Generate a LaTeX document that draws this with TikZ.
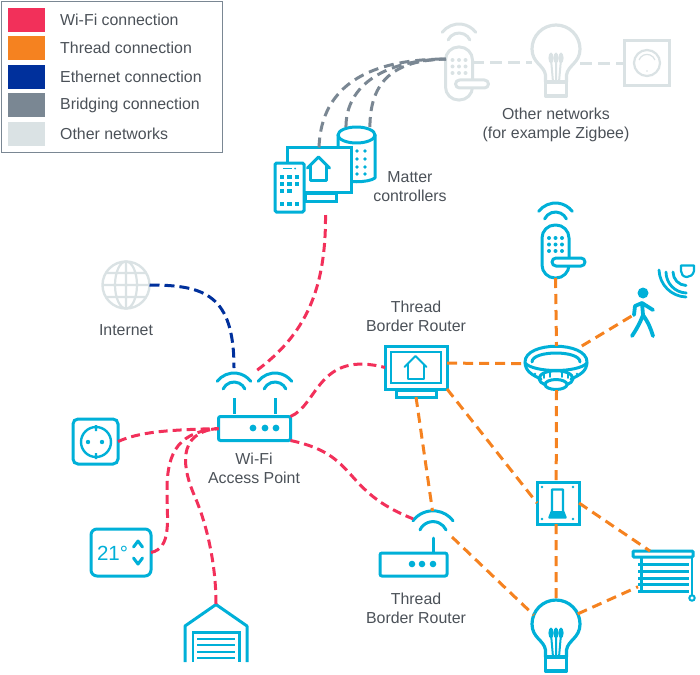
\documentclass[tikz,border=0pt]{standalone}
\usepackage{fontspec}
\setmainfont{Liberation Sans}
\usetikzlibrary{positioning}
\definecolor{cWifi}{HTML}{F2305A}
\definecolor{cThread}{HTML}{F58220}
\definecolor{cEth}{HTML}{00309C}
\definecolor{cBridge}{HTML}{7A8793}
\definecolor{cOther}{HTML}{DAE2E4}
\definecolor{cIcon}{HTML}{00B0D8}
\definecolor{cText}{HTML}{4B5158}

\begin{document}
\begin{tikzpicture}[x=1pt,y=-1pt,
      sw/.style={minimum width=37pt,minimum height=24pt,inner sep=0pt,outer sep=0pt},
      lab/.style={anchor=west,inner sep=0pt,text=cText,font=\fontsize{15.9}{19}\selectfont},
      txt/.style={align=center,inner sep=0pt,text=cText,font=\fontsize{15.9}{19}\selectfont},
      box/.style={draw=cIcon,fill=white,line width=3pt,inner sep=0pt,outer sep=0pt},
      hit/.style={inner sep=0pt,outer sep=0pt},
      ico/.style={line width=3pt,line join=round,line cap=round},
      wifiline/.style={draw=cWifi,line width=3pt,dash pattern=on 9pt off 5pt},
      threadline/.style={draw=cThread,line width=3pt,dash pattern=on 10pt off 6pt},
      ethline/.style={draw=cEth,line width=3pt,dash pattern=on 10pt off 5pt},
      bridgeline/.style={draw=cBridge,line width=3pt,dash pattern=on 10pt off 6pt},
      otherline/.style={draw=cOther,line width=3pt,dash pattern=on 12pt off 6pt},
      wifiarcs/.pic={
        \draw[ico] (217:21) arc (217:323:21);
        \draw[ico] (205:12) arc (205:335:12);
      },
      housepic/.pic={
        \draw[line join=round,line cap=round] (-11,11) -- (0,0) -- (11,11);
        \draw[line join=round] (-8,8) -- (-8,23) -- (8,23) -- (8,8);
      },
      lockpic/.pic={
        \draw[ico,rounded corners=13pt] (-13.5,0) rectangle (13.5,53);
        \foreach \x in {-6.5,0,6.5}
          \foreach \y in {13,19.5,26}
            \fill (\x,\y) circle (2);
        \draw[ico,fill=white,rounded corners=4pt] (-3.5,33) rectangle (29.5,41);
      },
      bulbpic/.pic={
        \draw[ico,line width=3.2pt] (-10.5,33) -- (-10.5,26) .. controls (-12,16) and (-24,14) .. (-24,0)
          arc (180:360:24) .. controls (24,14) and (12,16) .. (10.5,26) -- (10.5,33);
        \draw[ico,line width=3.2pt] (-10.5,33) rectangle (10.5,47);
        \draw[line width=2pt] (-5,10) -- (-3,33) (0,10) -- (0,33) (5,10) -- (3,33);
        \foreach \x in {-5,0,5}
          \fill (\x,9) ellipse (2.6 and 5.5);
      }]
    \useasboundingbox (0,0) rectangle (700,674);
    % legend
    \node[draw=cBridge,line width=1.5pt,minimum width=221pt,minimum height=151pt,inner sep=0pt]
      (legend) at (112,77) {};
    \node[sw,fill=cWifi]   (sw1) at (26.5,20)  {};
    \node[lab,right=15pt of sw1] (t1) {Wi-Fi connection};
    \node[sw,fill=cThread] (sw2) at (26.5,48)  {};
    \node[lab,right=15pt of sw2] (t2) {Thread connection};
    \node[sw,fill=cEth]    (sw3) at (26.5,77)  {};
    \node[lab,right=15pt of sw3] (t3) {Ethernet connection};
    \node[sw,fill=cBridge] (sw4) at (26.5,105) {};
    \node[lab,right=15pt of sw4] (t4) {Bridging connection};
    \node[sw,fill=cOther]  (sw5) at (26.5,134) {};
    \node[lab,right=15pt of sw5] (t5) {Other networks};

    % other networks
    \pic[color=cOther] at (459,47) {lockpic};
    \pic[color=cOther] at (459,45) {wifiarcs};
    \node[hit,minimum width=26pt,minimum height=53pt] (locka) at (459,73.5) {};
    \pic[color=cOther] at (556,49) {bulbpic};
    \node[hit,circle,minimum size=48pt] (bulba) at (556,49) {};
    \node[box,draw=cOther,minimum width=45pt,minimum height=45pt] (dimmer) at (647,63.5) {};
    \draw[cOther,line width=2.2pt] (647,63) circle (13);
    \draw[cOther,line width=1.2pt] (639,60) arc (200:340:8.5);
    \fill[cOther] (647,71) circle (0.8);
    \node[txt] (lother) at (556,124.5) {Other networks\\(for example Zigbee)};

    % matter controllers
    \draw[ico,cIcon] (338,135) -- (338,178) .. controls (345,183) and (368,183) .. (375,178) -- (375,135);
    \draw[ico,cIcon,fill=white] (356.5,135) ellipse (18.5 and 8);
    \foreach \y in {151,159,167,174}
      \foreach \x in {357,365}
        \fill[cIcon] (\x,\y) circle (1.9);
    \node[hit,minimum width=37pt,minimum height=55pt] (speaker) at (356.5,154.5) {};
    \node[box,minimum width=31pt,minimum height=8pt] (mstand) at (320.5,197) {};
    \node[box,minimum width=64pt,minimum height=45pt] (monitor) at (319,170) {};
    \pic[color=cIcon,line width=3pt] at (318.5,157) {housepic};
    \node[box,rounded corners=1.5pt,minimum width=29pt,minimum height=49pt] (phone) at (289.5,187.5) {};
    \draw[cIcon,line width=1.6pt] (283,168.5) -- (292,168.5);
    \fill[cIcon] (295,168.5) circle (1);
    \foreach \x/\y in {282/177,289.5/177,297/177,282/184,289.5/184,297/184,282/191,289.5/191,282/204,289.5/204,297/204}
      \fill[cIcon] (\x-2.4,\y-2.4) rectangle (\x+2.4,\y+2.4);
    \node[txt] (lmatter) at (410,186.5) {Matter\\controllers};

    % internet
    \node[hit,circle,draw=cOther,line width=2.4pt,minimum size=47pt] (globe) at (126,285) {};
    \draw[cOther,line width=2.2pt] (126,285) ellipse (11 and 23.5) (126,261.5) -- (126,308.5)
      (102.5,285) -- (149.5,285) (106,273) -- (146,273) (106,297) -- (146,297);
    \node[txt] (linternet) at (126,330) {Internet};

    % wi-fi access point
    \node[box,rounded corners=2pt,minimum width=72pt,minimum height=24pt] (wifiap) at (254.5,428.5) {};
    \foreach \x in {253,265,276}
      \fill[cIcon] (\x,428) circle (3.4);
    \draw[cIcon,line width=3pt] (234,398) -- (234,414) (275,398) -- (275,414);
    \pic[color=cIcon] at (234,394) {wifiarcs};
    \pic[color=cIcon] at (275,394) {wifiarcs};
    \coordinate (apeth) at (234,368);
    \coordinate (apmatter) at (256,371);
    \node[txt] (lap) at (254,468.5) {Wi-Fi\\Access Point};

    % wi-fi devices
    \node[box,rounded corners=5pt,minimum width=45pt,minimum height=45pt] (socket) at (95.5,441.5) {};
    \draw[cIcon,line width=2.4pt] (96,442) circle (15) (96,425) -- (96,431) (96,453) -- (96,459);
    \fill[cIcon] (88,442) circle (2.2) (102,442) circle (2.2);
    \node[box,rounded corners=6pt,minimum width=60pt,minimum height=47pt] (thermo) at (121,552.5) {};
    \node[hit,text=cIcon,font=\fontsize{20.5}{20.5}\selectfont] (temp) at (112.5,553) {21°};
    \draw[ico,cIcon] (133.5,547) -- (138,541) -- (142.5,547) (133.5,558) -- (138,564) -- (142.5,558);
    \node[hit,minimum width=64pt,minimum height=58pt] (garage) at (216,633) {};
    \draw[ico,cIcon,line cap=butt] (185,662) -- (185,626) -- (216,604.5) -- (247,626) -- (247,662);
    \draw[cIcon,line width=2.6pt] (193,662) -- (193,632.5) -- (239.5,632.5) -- (239.5,662);
    \foreach \y in {638.5,645,651.5,658}
      \draw[cIcon,line width=2pt] (197,\y) -- (235,\y);

    % thread border router
    \node[box,minimum width=40pt,minimum height=7pt] (tbrstand) at (416,393.5) {};
    \node[box,minimum width=62pt,minimum height=43pt] (tbr) at (416,367.5) {};
    \draw[cIcon,line width=2.2pt] (391,352) rectangle (441,383);
    \pic[color=cIcon,line width=2pt] at (415.5,356) {housepic};
    \node[txt] (ltbr) at (416,316.5) {Thread\\Border Router};

    % thread router
    \node[box,rounded corners=2pt,minimum width=67pt,minimum height=23pt] (trouter) at (413.5,564.5) {};
    \foreach \x in {412,422,433}
      \fill[cIcon] (\x,564) circle (3.3);
    \draw[cIcon,line width=3pt,line cap=round] (433,538) -- (433,552);
    \pic[color=cIcon,scale=1.2] at (433,536) {wifiarcs};
    \node[hit,minimum width=39pt,minimum height=26pt] (trwifi) at (432.5,524) {};
    \node[txt] (ltr) at (416,608.5) {Thread\\Border Router};

    % thread devices
    \pic[color=cIcon] at (555.5,225) {lockpic};
    \pic[color=cIcon] at (555.5,224) {wifiarcs};
    \node[hit,minimum width=27pt,minimum height=53pt] (lockb) at (555.5,251.5) {};
    \begin{scope}[shift={(556,365)},cIcon,ico]
      \draw (-24,-3) .. controls (-24,-15) and (24,-15) .. (24,-3);
      \draw (-31,-3) .. controls (-31,-24) and (31,-24) .. (31,-3)
        .. controls (31,6) and (24,10) .. (15,14) (-31,-3) .. controls (-31,6) and (-24,10) .. (-15,14);
      \draw (-31,-2) .. controls (-22,8) and (22,8) .. (31,-2);
      \draw (-17,14) .. controls (-17,3) and (17,3) .. (17,14) .. controls (15,24) and (-15,24) .. (-17,14);
      \draw[line width=1.8pt] (-6,7) -- (-6,12) (6,7) -- (6,12) (-12,9) -- (-12,13) (12,9) -- (12,13);
      \draw[fill=white] (0,19.5) ellipse (11 and 5);
      \fill (-21,9) circle (1.4) (21,9) circle (1.4);
    \end{scope}
    \node[hit,minimum width=63pt,minimum height=44pt] (smoke) at (556.5,368) {};
    \node[hit,minimum width=21pt,minimum height=48pt] (walker) at (642.5,312) {};
    \fill[cIcon] (643,293) circle (5.5);
    \draw[cIcon,line width=3.8pt,line cap=round,line join=round]
      (642,303) -- (643,315) .. controls (640,323) and (636,330) .. (632,336)
      (643,315) .. controls (648,322) and (651,329) .. (653,336)
      (634,315) -- (635,306) -- (642,303) -- (653,310);
    \draw[cIcon,line width=2.8pt,line cap=round] (673,272) arc (180:92:13.5)
      (666,272) arc (180:92:21) (659,270) arc (178:92:28);
    \draw[cIcon,line width=2.2pt,line join=round] (681,265.5) -- (694,265.5) -- (694,271)
      .. controls (693,275) and (690,277) .. (687,277) .. controls (683,277) and (681,274) .. (681,271) -- cycle;
    \node[box,minimum width=42pt,minimum height=42pt] (switch) at (558,503) {};
    \foreach \x/\y in {542/487,573/487,542/519,573/519}
      \fill[cIcon] (\x,\y) circle (1.4);
    \draw[cIcon,line width=2.4pt,line join=round] (552,489.5) -- (563,489.5) -- (563,511)
      -- (565.5,517.5) -- (549.5,517.5) -- (552,511) -- cycle;
    \fill[cIcon] (552,511) -- (563,511) -- (565.5,517.5) -- (549.5,517.5) -- cycle;
    \pic[color=cIcon] at (556,624) {bulbpic};
    \node[hit,circle,minimum size=48pt] (bulbb) at (556,624) {};
    \foreach \y in {564,571,578,584.5,591}
      \draw[cIcon,line width=3pt] (638,\y) -- (689,\y);
    \draw[cIcon,line width=3pt] (641,557) -- (641,591);
    \draw[cIcon,line width=2.2pt] (692,557) -- (692,595.5);
    \draw[cIcon,line width=2pt] (692,598) circle (2.7);
    \node[hit,minimum width=51pt,minimum height=27pt] (blindslats) at (663.5,577.5) {};
    \node[box,rounded corners=1pt,minimum width=60pt,minimum height=6pt] (blindbar) at (663,554) {};
    \coordinate (ctrlred) at (325.5,215);

    % connections
    \draw[bridgeline] (monitor.north) .. controls (321,85) and (370,59) .. (locka.132);
    \draw[bridgeline] (speaker.111) .. controls (346,85) and (385,60) .. (locka.132);
    \draw[bridgeline] (speaker.64) .. controls (370,80) and (395,60) .. (locka.132);
    \draw[otherline] (locka.39) -- (locka.39 -| bulba.west);
    \draw[otherline] (dimmer.west -| bulba.east) -- (dimmer.west);
    \draw[ethline] (globe.east) .. controls (205,285) and (234,295) .. (apeth);
    \draw[wifiline] (ctrlred) .. controls (326,290) and (305,335) .. (apmatter);
    \draw[wifiline] (socket.east) .. controls (140,432) and (165,430) .. (wifiap.west);
    \draw[wifiline] (thermo.east) .. controls (172,548) and (167,520) .. (167,490)
      .. controls (167,450) and (180,432) .. (wifiap.west);
    \draw[wifiline] (garage.north) .. controls (216,560) and (205,520) .. (195,497)
      .. controls (183,470) and (175,432) .. (wifiap.west);
    \draw[wifiline] (wifiap.north east) .. controls (318,405) and (318,350) .. (tbr.west);
    \draw[wifiline] (wifiap.south east) .. controls (360,455) and (340,490) .. (trwifi.165);
    \draw[threadline] (lockb.south) -- (smoke.north);
    \draw[threadline] (smoke.41) -- (walker.200);
    \draw[threadline] (tbr.8) -- (smoke.172);
    \draw[threadline] (tbrstand.south) -- (trwifi.north);
    \draw[threadline] (tbr.south east) -- (switch.west);
    \draw[threadline] (smoke.south) -- (switch.95);
    \draw[threadline] (trwifi.south east) -- (bulbb.158);
    \draw[threadline] (switch.265) -- (bulbb.north);
    \draw[threadline] (switch.east) -- (blindbar.167);
    \draw[threadline] (bulbb.25) -- (blindslats.200);
\end{tikzpicture}
\end{document}
